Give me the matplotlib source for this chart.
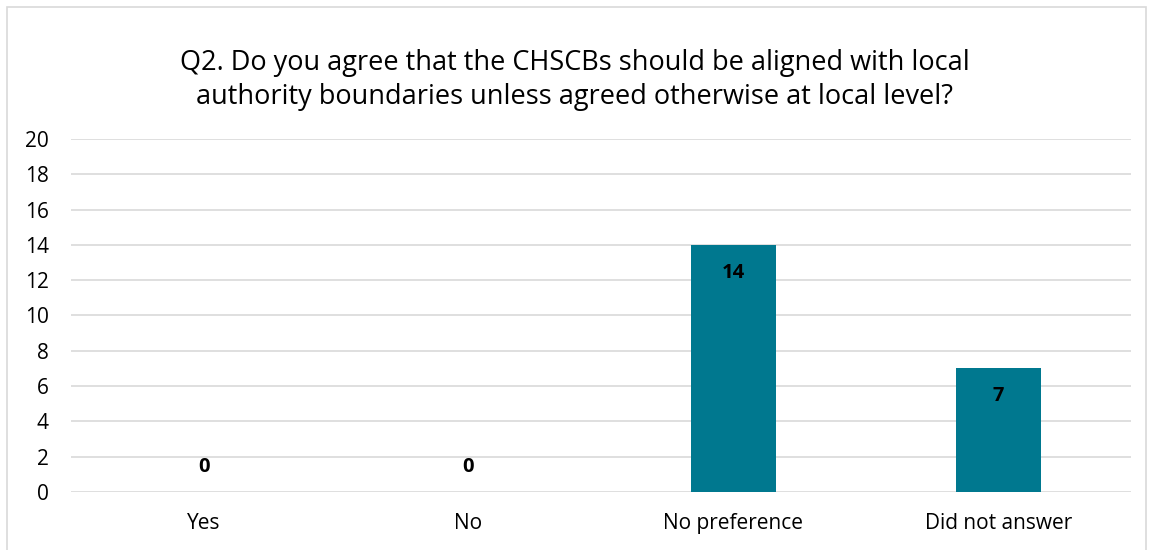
import matplotlib
matplotlib.use("Agg")
import matplotlib.pyplot as plt
from matplotlib.patches import Rectangle

categories = ["Yes", "No", "No preference", "Did not answer"]
counts = [0, 0, 14, 7]
y_ticks = list(range(0, 21, 2))
title = ("Q2. Do you agree that the CHSCBs should be aligned with local\n"
         "authority boundaries unless agreed otherwise at local level?")

bar_color = "#00788F"
grid_color = "#D9D9D9"
plt.rcParams["font.family"] = ["Open Sans", "DejaVu Sans"]

fig = plt.figure(figsize=(11.49, 5.5), dpi=100)
ax = fig.add_axes([0.0618, 0.1055, 0.9225, 0.6418])

x = list(range(len(categories)))
bars = ax.bar(x, counts, width=0.32, color=bar_color, zorder=3)

ax.set_xlim(-0.5, len(categories) - 0.5)
ax.set_ylim(0, 20)
ax.set_yticks(y_ticks)
ax.set_xticks(x)
ax.set_xticklabels(categories)
ax.tick_params(axis="both", length=0, labelsize=15, colors="#000000")
ax.tick_params(axis="y", pad=16)
ax.tick_params(axis="x", pad=15)
ax.grid(axis="y", color=grid_color, linewidth=1.2, zorder=0)
for s in ax.spines.values():
    s.set_visible(False)

for xi, v in zip(x, counts):
    off = 18 if v == 0 else -20
    ax.annotate(str(v), (xi, v), xytext=(0, off), textcoords="offset points",
                ha="center", va="center", fontsize=14.5, fontweight="bold",
                color="#000000", zorder=4)

fig.text(0.5, 0.8545, title, ha="center", va="center", fontsize=19.5,
         linespacing=1.27, color="#000000")

fig.patches.append(Rectangle((7 / 1149, -0.01), 1139 / 1149, 1 - 7 / 550 + 0.01,
                             transform=fig.transFigure, fill=False,
                             edgecolor=grid_color, linewidth=1.2))

fig.savefig("out.png", dpi=100)
